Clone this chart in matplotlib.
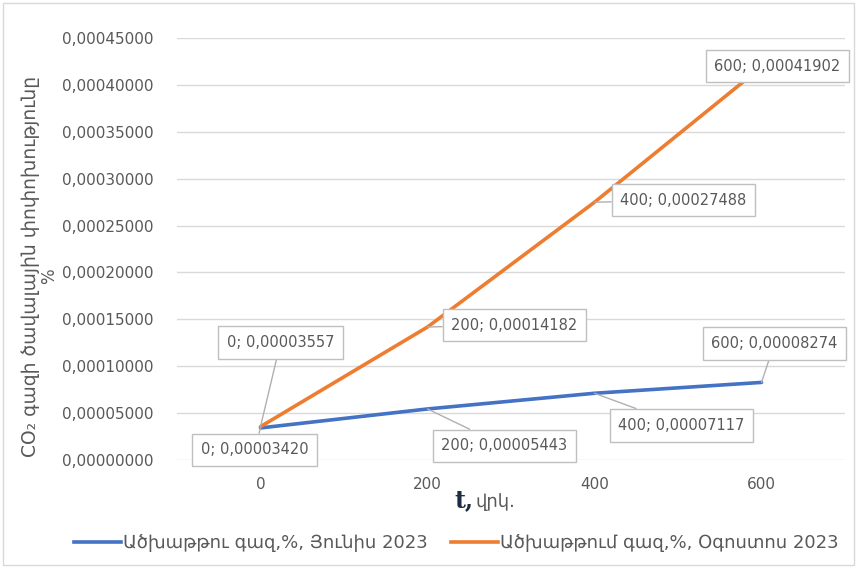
import matplotlib
matplotlib.use("Agg")
import matplotlib.pyplot as plt
from matplotlib.patches import Rectangle
from matplotlib.lines import Line2D

plt.rcParams['font.family'] = ['DejaVu Sans']

# time, s
t_values = [0, 200, 400, 600]
# CO2 change, %
june_2023 = [0.00003420, 0.00005443, 0.00007117, 0.00008274]
august_2023 = [0.00003557, 0.00014182, 0.00027488, 0.00041902]

series_names = ["Ածխաթթու գազ,%, Յունիս 2023", "Ածխաթթում գազ,%, Օգոստոս 2023"]
y_ticks = [0.00000, 0.00005, 0.00010, 0.00015, 0.00020, 0.00025, 0.00030, 0.00035, 0.00040, 0.00045]

BLUE = "#4472C4"
ORANGE = "#ED7D31"
TEXT = "#595959"
GRID = "#d9d9d9"


def fmt(v):
    return f"{v:.8f}".replace(".", ",")


fig = plt.figure(figsize=(8.57, 5.68), dpi=100)
ax = fig.add_axes([177 / 857, 108 / 568, 668 / 857, 422 / 568])

ax.plot(t_values, june_2023, color=BLUE, lw=2.6, solid_capstyle="round", zorder=3)
ax.plot(t_values, august_2023, color=ORANGE, lw=2.6, solid_capstyle="round", zorder=3)

ax.set_xlim(-100, 700)
ax.set_ylim(0, 0.00045)
ax.set_xticks(t_values)
ax.set_yticks(y_ticks)
ax.set_yticklabels([fmt(v) for v in y_ticks])
ax.tick_params(length=0, labelsize=11, labelcolor=TEXT, pad=17)
ax.tick_params(axis="x", pad=12)
ax.grid(axis="y", color=GRID, lw=1)
ax.set_axisbelow(True)
for s in ax.spines.values():
    s.set_visible(False)

# data labels: offset of the label box from its point, in pixels
june_offsets = [(-6, -22), (77, -37), (87, -32), (13, 39)]
august_offsets = [(20, 84), (87, 2), (89, 2), (16, 1)]

box = dict(boxstyle="square,pad=0.6", fc="white", ec="#bfbfbf", lw=1)
leader = dict(arrowstyle="-", color="#b0b0b0", lw=1, shrinkA=0, shrinkB=0)
for ys, offs in [(june_2023, june_offsets), (august_2023, august_offsets)]:
    for x, v, (dx, dy) in zip(t_values, ys, offs):
        ax.annotate(f"{x}; {fmt(v)}", xy=(x, v), xytext=(dx, dy),
                    textcoords="offset pixels", ha="center", va="center",
                    fontsize=10.5, color=TEXT, bbox=box, arrowprops=leader,
                    zorder=5)

# axis titles
fig.text(473 / 857, 1 - 500 / 568, "t,", fontsize=17, fontweight="bold",
         family="DejaVu Serif", color="#1f2a44", ha="right", va="center")
fig.text(475 / 857, 1 - 502 / 568, "վրկ.", fontsize=13, color=TEXT,
         ha="left", va="center")
fig.text(31 / 857, 1 - 266 / 568, "CO₂ գազի ծավալային փոփոխությունը", rotation=90,
         fontsize=13.5, color=TEXT, ha="center", va="center")
fig.text(49 / 857, 1 - 276 / 568, "%", rotation=90,
         fontsize=12, color=TEXT, ha="center", va="center")

handles = [Line2D([], [], color=BLUE, lw=2.6), Line2D([], [], color=ORANGE, lw=2.6)]
fig.legend(handles, series_names, loc="center", bbox_to_anchor=(456 / 857, 25 / 568),
           ncol=2, frameon=False, fontsize=13, labelcolor=TEXT,
           handlelength=2.6, handletextpad=0.1, columnspacing=1.3)

# chart frame
fig.patches.append(Rectangle((3 / 857, 3 / 568), 851 / 857, 562 / 568,
                             transform=fig.transFigure, fill=False,
                             ec="#d9d9d9", lw=1))

fig.savefig("out.png", dpi=100)
